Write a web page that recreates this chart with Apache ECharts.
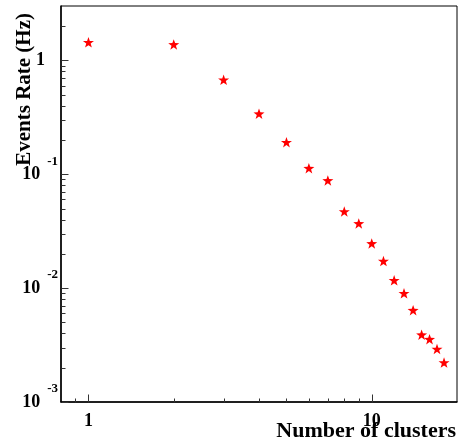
<!doctype html>
<html>
<head>
<meta charset="utf-8">
<script src="https://cdn.jsdelivr.net/npm/echarts@6/dist/echarts.min.js"></script>
<style>
    html, body { margin: 0; padding: 0; background: #fff; }
    #chart { width: 459px; height: 446px; }
</style>
</head>
<body>
<div id="chart"></div>
<script>
    // number of clusters and measured rate (Hz)
    let clusters = [1, 2, 3, 4, 5, 6, 7, 8, 9, 10, 11, 12, 13, 14, 15, 16, 17, 18];
    let rates = [1.44, 1.38, 0.675, 0.34, 0.191, 0.113, 0.0882, 0.0471, 0.037, 0.0247,
        0.0173, 0.0117, 0.009, 0.0064, 0.0039, 0.00356, 0.00292, 0.00222];

    let xMajor = [1, 10];
    let xMinor = [0.9, 2, 3, 4, 5, 6, 7, 8, 9];
    let yMajor = [0.001, 0.01, 0.1, 1];
    let yMinor = [0.002, 0.003, 0.004, 0.005, 0.006, 0.007, 0.008, 0.009,
        0.02, 0.03, 0.04, 0.05, 0.06, 0.07, 0.08, 0.09,
        0.2, 0.3, 0.4, 0.5, 0.6, 0.7, 0.8, 0.9, 2];
    let yLabels = {'0.001': '-3', '0.01': '-2', '0.1': '-1'};

    let xMin = 0.8, xMax = 20, yMin = 0.001, yMax = 3;
    let font = '"Liberation Serif", "Times New Roman", serif';
    let star = 'path://M0,-10L2.351,-3.236L9.511,-3.09L3.804,1.236L5.878,8.09L0,4L-5.878,8.09L-3.804,1.236L-9.511,-3.09L-2.351,-3.236Z';

    let points = [];
    for (let i = 0; i < clusters.length; i++) {
        points.push([clusters[i], rates[i]]);
    }

    // one custom series per tick set, drawn inward from the axis
    function tickSeries(values, onX, len) {
        let data = values.map(function (v) { return onX ? [v, yMin] : [xMin, v]; });
        return {
            type: 'custom',
            data: data,
            clip: false,
            silent: true,
            z: 1,
            renderItem: function (params, api) {
                let p = api.coord([api.value(0), api.value(1)]);
                let x = Math.round(p[0]) + 0.5, y = Math.round(p[1]) + 0.5;
                return {
                    type: 'line',
                    shape: onX ? {x1: x, y1: y, x2: x, y2: y - len} : {x1: x, y1: y, x2: x + len, y2: y},
                    style: {stroke: '#333', lineWidth: 1}
                };
            }
        };
    }

    let chart = echarts.init(document.getElementById('chart'));
    chart.setOption({
        animation: false,
        backgroundColor: '#fff',
        grid: {left: 61, right: 2, top: 6, bottom: 44, show: true, borderColor: '#000', borderWidth: 1},
        xAxis: {
            type: 'log', logBase: 10, min: xMin, max: xMax,
            axisLine: {lineStyle: {color: '#000', width: 1.5}},
            axisTick: {show: false},
            splitLine: {show: false},
            axisLabel: {
                customValues: xMajor, margin: 10,
                fontFamily: font, fontWeight: 'bold', fontSize: 18, color: '#000',
                formatter: function (v) { return v >= 9.9 ? '10' : '1'; }
            }
        },
        yAxis: {
            type: 'log', logBase: 10, min: yMin, max: yMax,
            axisLine: {lineStyle: {color: '#000', width: 1.5}},
            axisTick: {show: false},
            splitLine: {show: false},
            axisLabel: {
                customValues: yMajor, margin: 3, align: 'right',
                formatter: function (v) {
                    if (v > 0.5) return '{b|1}{pad|}';
                    return '{b|10}{gap|}{e|' + yLabels[String(v)] + '}';
                },
                rich: {
                    b: {fontFamily: font, fontWeight: 'bold', fontSize: 18, color: '#000'},
                    gap: {width: 7},
                    pad: {width: 13},
                    e: {fontFamily: font, fontWeight: 'bold', fontSize: 13, color: '#000', padding: [0, 0, 26, 0]}
                }
            }
        },
        graphic: [
            {
                type: 'text', x: 456, y: 442,
                style: {text: 'Number of clusters', fontFamily: font, fontWeight: 'bold', fontSize: 22,
                    fill: '#000', align: 'right', verticalAlign: 'bottom'}
            },
            {
                type: 'text', x: 25, y: 13, rotation: Math.PI / 2,
                style: {text: 'Events Rate (Hz)', fontFamily: font, fontWeight: 'bold', fontSize: 21,
                    fill: '#000', align: 'right', verticalAlign: 'middle'}
            }
        ],
        series: [
            tickSeries(xMajor, true, 8),
            tickSeries(xMinor, true, 4),
            tickSeries(yMajor, false, 7),
            tickSeries(yMinor, false, 4),
            {
                type: 'scatter',
                data: points,
                symbol: star,
                symbolSize: [11, 10.5],
                itemStyle: {color: '#ff0000', opacity: 1},
                z: 3
            }
        ]
    });
</script>
</body>
</html>
